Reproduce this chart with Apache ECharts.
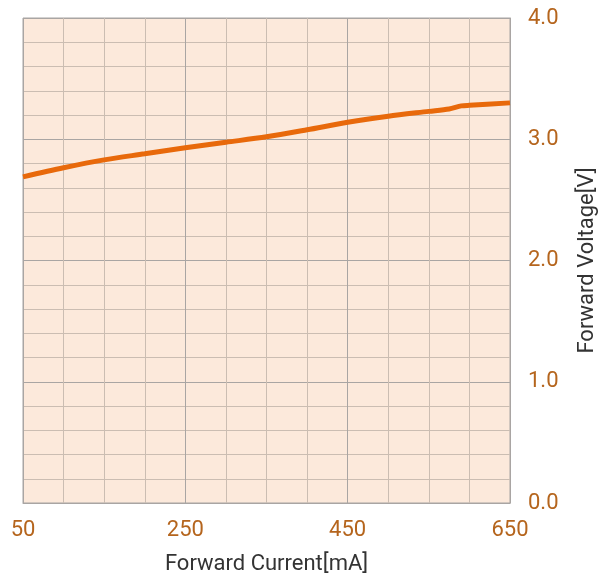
<!DOCTYPE html>
<html>
<head>
<meta charset="utf-8">
<script src="https://cdn.jsdelivr.net/npm/echarts@6/dist/echarts.min.js"></script>
<style>
html,body{margin:0;padding:0;background:#fff;}
#chart{width:600px;height:576px;}
</style>
</head>
<body>
<div id="chart"></div>
<script>
// Forward current (mA) and forward voltage (V)
const currents = [50, 100, 150, 200, 250, 300, 350, 400, 450, 500, 550, 575, 590, 600, 650];
const voltages = [2.69, 2.765, 2.83, 2.88, 2.93, 2.975, 3.02, 3.078, 3.14, 3.19, 3.23, 3.25, 3.275, 3.28, 3.30];
const xLabels = [50, 250, 450, 650];
const yLabels = [0, 1, 2, 3, 4];

const labelColor = '#b5651d';
const majorColor = '#a9a5a3';
const minorColor = '#cbbdb2';

const chart = echarts.init(document.getElementById('chart'));
chart.setOption({
  animation: false,
  grid: {
    left: 23, right: 90, top: 18, bottom: 73,
    outerBoundsMode: 'none', containLabel: false,
    show: true, backgroundColor: '#fce9db', borderColor: majorColor, borderWidth: 1
  },
  xAxis: {
    type: 'value', min: 50, max: 650, interval: 50,
    name: 'Forward Current[mA]', nameLocation: 'middle', nameGap: 50,
    nameTextStyle: { color: '#333', fontSize: 22, fontFamily: 'Roboto' },
    axisLine: { show: true, lineStyle: { color: majorColor, width: 1 } },
    axisTick: { show: false },
    axisLabel: {
      color: labelColor, fontSize: 22, fontFamily: 'Roboto', margin: 16,
      formatter: v => xLabels.includes(v) ? String(v) : ''
    },
    splitLine: { show: true, lineStyle: { color: [majorColor, minorColor, minorColor, minorColor], width: 1 } }
  },
  yAxis: {
    type: 'value', position: 'right', min: 0, max: 4, interval: 0.2,
    name: 'Forward Voltage[V]', nameLocation: 'middle', nameGap: 66, nameRotate: 90,
    nameTextStyle: { color: '#333', fontSize: 22, fontFamily: 'Roboto' },
    axisLine: { show: true, lineStyle: { color: majorColor, width: 1 } },
    axisTick: { show: false },
    axisLabel: {
      color: labelColor, fontSize: 22, fontFamily: 'Roboto', margin: 18,
      formatter: v => {
        const r = Math.round(v * 1000) / 1000;
        return yLabels.includes(r) ? r.toFixed(1) : '';
      }
    },
    splitLine: { show: true, lineStyle: { color: [majorColor, minorColor, minorColor, minorColor, minorColor], width: 1 } }
  },
  series: [{
    type: 'line',
    data: currents.map((c, i) => [c, voltages[i]]),
    showSymbol: false,
    smooth: 0.3,
    lineStyle: { color: '#e8690b', width: 5 },
    itemStyle: { color: '#e8690b' }
  }]
});
</script>
</body>
</html>
